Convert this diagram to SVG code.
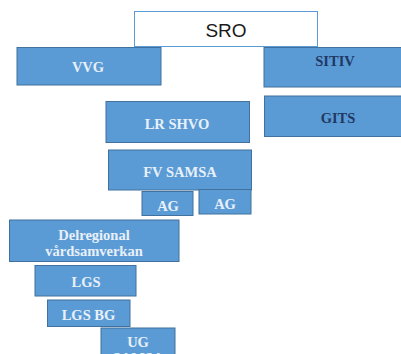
<svg xmlns="http://www.w3.org/2000/svg" width="401" height="354" viewBox="0 0 401 354">
<style>
.b{fill:#5b9bd5;stroke:#41719c;stroke-width:1}
.t{font-family:"Liberation Serif","DejaVu Serif",serif;font-weight:bold;font-size:14.5px;fill:#e8f0f9;text-anchor:middle}
.d{fill:#1f3864}
</style>
<rect width="401" height="354" fill="#ffffff"/>
<g id="sro">
<rect x="134.5" y="11.5" width="183" height="35" fill="#ffffff" stroke="#5b9bd5" stroke-width="1"/>
<text x="226" y="37" font-family="'Liberation Sans',Arial,sans-serif" font-size="19" fill="#1a1a1a" text-anchor="middle">SRO</text>
</g>
<g id="vvg">
<rect class="b" x="17" y="47.5" width="144" height="37.5"/>
<text class="t" x="88" y="71.5">VVG</text>
</g>
<g id="sitiv">
<rect class="b" x="264" y="47.5" width="140" height="39.5"/>
<text class="t d" x="335" y="65.5">SITIV</text>
</g>
<g id="lrshvo">
<rect class="b" x="106" y="101.5" width="143.5" height="41"/>
<text class="t" x="177" y="128.5">LR SHVO</text>
</g>
<g id="gits">
<rect class="b" x="264.5" y="96" width="140" height="40.5"/>
<text class="t d" x="338" y="122.5">GITS</text>
</g>
<g id="fvsamsa">
<rect class="b" x="108.5" y="150" width="143" height="40"/>
<text class="t" x="180" y="177">FV SAMSA</text>
</g>
<g id="ag1">
<rect class="b" x="142" y="191.5" width="51" height="24"/>
<text class="t" x="168" y="210.5">AG</text>
</g>
<g id="ag2">
<rect class="b" x="199" y="189.5" width="52" height="24.5"/>
<text class="t" x="225" y="208.5">AG</text>
</g>
<g id="delregional">
<rect class="b" x="9.5" y="220" width="169.5" height="41.5"/>
<text class="t" x="94" y="239.5">Delregional</text>
<text class="t" x="94" y="255.5">vårdsamverkan</text>
</g>
<g id="lgs">
<rect class="b" x="35" y="265.5" width="101" height="30.5"/>
<text class="t" x="86" y="286.5">LGS</text>
</g>
<g id="lgsbg">
<rect class="b" x="47.5" y="300" width="82.5" height="26.5"/>
<text class="t" x="88.5" y="319.5">LGS BG</text>
</g>
<g id="ug">
<rect class="b" x="101" y="328" width="74" height="30"/>
<text class="t" x="138" y="346.5">UG</text>
<text class="t" x="138" y="362.5">SAMSA</text>
</g>
</svg>
